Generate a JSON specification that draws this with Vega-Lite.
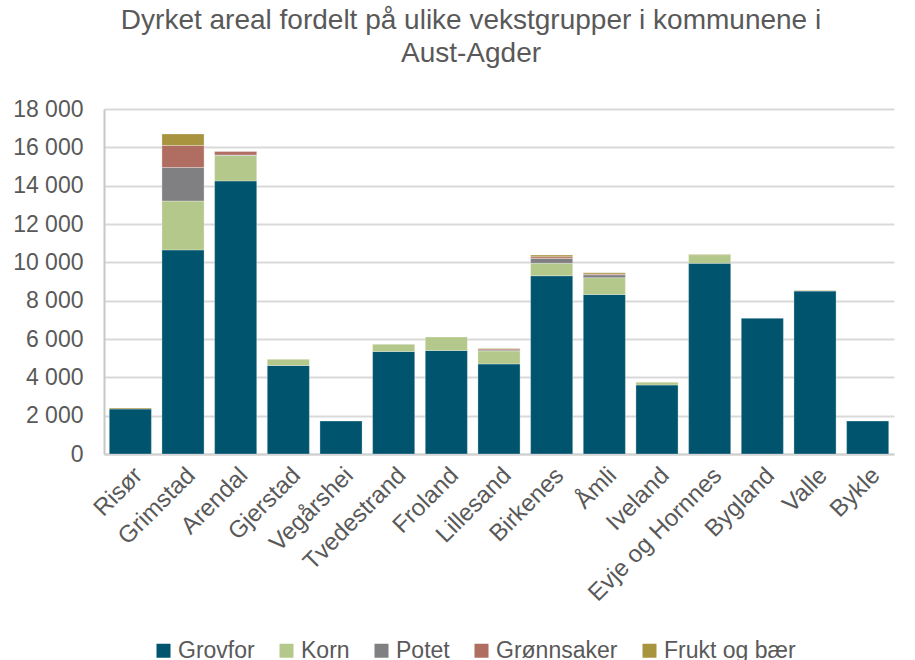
{
  "$schema": "https://vega.github.io/schema/vega-lite/v6.json",
  "width": 790,
  "height": 345,
  "autosize": "none",
  "padding": {"left": 104, "top": 109, "right": 21, "bottom": 206},
  "background": "white",
  "title": {
    "text": ["Dyrket areal fordelt på ulike vekstgrupper i kommunene i", "Aust-Agder"],
    "font": "Liberation Sans",
    "fontSize": 28,
    "fontWeight": "normal",
    "color": "#595959",
    "anchor": "middle",
    "dx": -28,
    "offset": 30,
    "lineHeight": 33
  },
  "data": {
    "values": [
      {"kommune": "Risør", "gruppe": "Grovfor", "nr": 1, "areal": 2350},
      {"kommune": "Risør", "gruppe": "Frukt og bær", "nr": 5, "areal": 50},
      {"kommune": "Grimstad", "gruppe": "Grovfor", "nr": 1, "areal": 10650},
      {"kommune": "Grimstad", "gruppe": "Korn", "nr": 2, "areal": 2550},
      {"kommune": "Grimstad", "gruppe": "Potet", "nr": 3, "areal": 1750},
      {"kommune": "Grimstad", "gruppe": "Grønnsaker", "nr": 4, "areal": 1150},
      {"kommune": "Grimstad", "gruppe": "Frukt og bær", "nr": 5, "areal": 600},
      {"kommune": "Arendal", "gruppe": "Grovfor", "nr": 1, "areal": 14250},
      {"kommune": "Arendal", "gruppe": "Korn", "nr": 2, "areal": 1320},
      {"kommune": "Arendal", "gruppe": "Potet", "nr": 3, "areal": 30},
      {"kommune": "Arendal", "gruppe": "Grønnsaker", "nr": 4, "areal": 180},
      {"kommune": "Gjerstad", "gruppe": "Grovfor", "nr": 1, "areal": 4620},
      {"kommune": "Gjerstad", "gruppe": "Korn", "nr": 2, "areal": 320},
      {"kommune": "Vegårshei", "gruppe": "Grovfor", "nr": 1, "areal": 1720},
      {"kommune": "Tvedestrand", "gruppe": "Grovfor", "nr": 1, "areal": 5350},
      {"kommune": "Tvedestrand", "gruppe": "Korn", "nr": 2, "areal": 370},
      {"kommune": "Froland", "gruppe": "Grovfor", "nr": 1, "areal": 5400},
      {"kommune": "Froland", "gruppe": "Korn", "nr": 2, "areal": 700},
      {"kommune": "Lillesand", "gruppe": "Grovfor", "nr": 1, "areal": 4700},
      {"kommune": "Lillesand", "gruppe": "Korn", "nr": 2, "areal": 680},
      {"kommune": "Lillesand", "gruppe": "Potet", "nr": 3, "areal": 40},
      {"kommune": "Lillesand", "gruppe": "Grønnsaker", "nr": 4, "areal": 60},
      {"kommune": "Lillesand", "gruppe": "Frukt og bær", "nr": 5, "areal": 30},
      {"kommune": "Birkenes", "gruppe": "Grovfor", "nr": 1, "areal": 9300},
      {"kommune": "Birkenes", "gruppe": "Korn", "nr": 2, "areal": 650},
      {"kommune": "Birkenes", "gruppe": "Potet", "nr": 3, "areal": 250},
      {"kommune": "Birkenes", "gruppe": "Grønnsaker", "nr": 4, "areal": 90},
      {"kommune": "Birkenes", "gruppe": "Frukt og bær", "nr": 5, "areal": 90},
      {"kommune": "Åmli", "gruppe": "Grovfor", "nr": 1, "areal": 8320},
      {"kommune": "Åmli", "gruppe": "Korn", "nr": 2, "areal": 880},
      {"kommune": "Åmli", "gruppe": "Potet", "nr": 3, "areal": 150},
      {"kommune": "Åmli", "gruppe": "Grønnsaker", "nr": 4, "areal": 40},
      {"kommune": "Åmli", "gruppe": "Frukt og bær", "nr": 5, "areal": 70},
      {"kommune": "Iveland", "gruppe": "Grovfor", "nr": 1, "areal": 3600},
      {"kommune": "Iveland", "gruppe": "Korn", "nr": 2, "areal": 150},
      {"kommune": "Evje og Hornnes", "gruppe": "Grovfor", "nr": 1, "areal": 9950},
      {"kommune": "Evje og Hornnes", "gruppe": "Korn", "nr": 2, "areal": 450},
      {"kommune": "Evje og Hornnes", "gruppe": "Frukt og bær", "nr": 5, "areal": 20},
      {"kommune": "Bygland", "gruppe": "Grovfor", "nr": 1, "areal": 7080},
      {"kommune": "Valle", "gruppe": "Grovfor", "nr": 1, "areal": 8500},
      {"kommune": "Valle", "gruppe": "Frukt og bær", "nr": 5, "areal": 30},
      {"kommune": "Bykle", "gruppe": "Grovfor", "nr": 1, "areal": 1720}
    ]
  },
  "mark": {"type": "bar", "stroke": "#ffffff", "strokeWidth": 0.6, "strokeOpacity": 0.5},
  "encoding": {
    "x": {
      "field": "kommune",
      "type": "nominal",
      "sort": ["Risør", "Grimstad", "Arendal", "Gjerstad", "Vegårshei", "Tvedestrand", "Froland", "Lillesand", "Birkenes", "Åmli", "Iveland", "Evje og Hornnes", "Bygland", "Valle", "Bykle"],
      "scale": {"paddingInner": 0.2, "paddingOuter": 0.1},
      "axis": {
        "title": null,
        "labelAngle": -45,
        "labelFont": "Liberation Sans",
        "labelFontSize": 24,
        "labelColor": "#595959",
        "ticks": false,
        "labelPadding": 9,
        "domainColor": "#d0d0d0",
        "domainWidth": 2
      }
    },
    "y": {
      "field": "areal",
      "type": "quantitative",
      "stack": "zero",
      "scale": {"domain": [0, 18000]},
      "axis": {
        "title": null,
        "values": [0, 2000, 4000, 6000, 8000, 10000, 12000, 14000, 16000, 18000],
        "labelExpr": "replace(format(datum.value, ','), ',', ' ')",
        "labelFont": "Liberation Sans",
        "labelFontSize": 23,
        "labelColor": "#595959",
        "labelPadding": 21,
        "ticks": false,
        "domain": true,
        "domainColor": "#c8c8c8",
        "domainWidth": 2,
        "gridColor": "#d9d9d9",
        "gridWidth": 2
      }
    },
    "color": {
      "field": "gruppe",
      "type": "nominal",
      "sort": ["Grovfor", "Korn", "Potet", "Grønnsaker", "Frukt og bær"],
      "scale": {
        "domain": ["Grovfor", "Korn", "Potet", "Grønnsaker", "Frukt og bær"],
        "range": ["#00546e", "#b3c88a", "#808083", "#b06e62", "#a8933f"]
      },
      "legend": {
        "title": null,
        "orient": "none",
        "direction": "horizontal",
        "legendX": 48,
        "legendY": 530,
        "symbolType": "square",
        "symbolSize": 196,
        "symbolStrokeWidth": 0,
        "labelFont": "Liberation Sans",
        "labelFontSize": 23,
        "labelColor": "#595959",
        "labelOffset": 3,
        "columnPadding": 20
      }
    },
    "order": {"field": "nr", "type": "quantitative", "sort": "ascending"}
  },
  "config": {"view": {"stroke": null}}
}
